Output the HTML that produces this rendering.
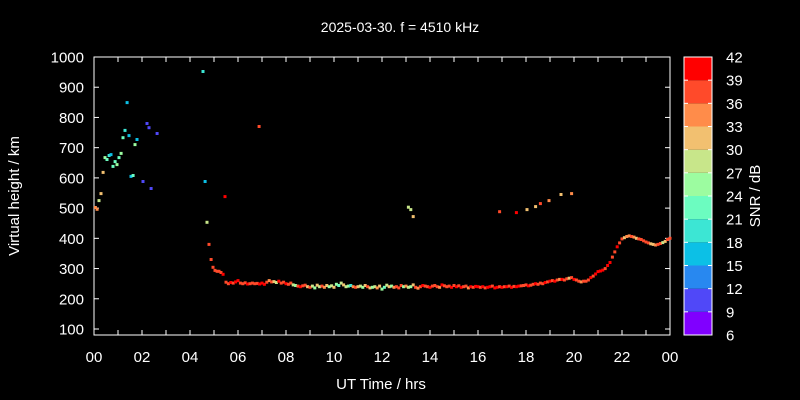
<!DOCTYPE html>
<html><head><meta charset="utf-8"><style>
html,body{margin:0;padding:0;background:#000;}
svg{display:block;font-family:"Liberation Sans",sans-serif;}
</style></head><body>
<svg id="c" width="800" height="400" viewBox="0 0 800 400">
<rect width="800" height="400" fill="#000"/>
<text x="400" y="32" fill="#fff" font-size="14" text-anchor="middle">2025-03-30. f = 4510 kHz</text>
<text x="381" y="389" fill="#fff" font-size="15" text-anchor="middle">UT Time / hrs</text>
<text x="19" y="196" fill="#fff" font-size="15" text-anchor="middle" transform="rotate(-90 19 196)">Virtual height / km</text>
<text x="760" y="196" fill="#fff" font-size="15" text-anchor="middle" transform="rotate(-90 760 196)">SNR / dB</text>
<g id="axes"></g>
<g id="pts"></g>
<g id="cbar"></g>
</svg>
<script>
const xTicks=["00","02","04","06","08","10","12","14","16","18","20","22","00"];
const yTicks=[100,200,300,400,500,600,700,800,900,1000];
const cbarTicks=[6,9,12,15,18,21,24,27,30,33,36,39,42];
const cbarColors=["#8000ff","#5048f8","#2888f0","#0cc0e6","#3ce6d4","#6cfcc0","#9cfca0","#c8e68a","#f2c070","#ff8c4a","#ff4a2a","#ff0000"];
// scattered echoes: hours, km, snr
const scatHour=[0.06,0.13,0.21,0.29,0.38,0.46,0.54,0.63,0.71,0.79,0.88,0.96,1.04,1.13,1.21,1.29,1.38,1.46,1.54,1.63,1.71,1.79,2.04,2.21,2.29,2.38,2.63,4.54,4.63,4.71,4.79,4.88,4.96,5.04,5.13,5.21,5.29,5.38,5.46,6.88,13.1,13.2,13.3,16.9,17.6,18.04,18.4,18.6,18.96,19.46,19.9];
const scatKm=[502,496,525,548,618,667,661,674,677,638,654,644,667,681,733,757,849,740,605,608,710,727,588,780,766,565,747,952,588,453,380,330,304,294,291,291,287,281,538,770,503,495,472,488,485,495,505,515,525,545,548];
const scatSnr=[33,33,27,30,30,24,21,18,15,21,21,24,21,24,21,18,15,15,15,21,24,15,9,9,9,9,9,18,15,27,36,37,37,37,37,37,36,42,42,36,27,27,30,36,42,30,30,36,33,30,33];
// main trace: starts 5.5 h, sampled every 0.1 h
const traceStart=5.5, traceStep=0.1;
const traceKm=[255,250,254,252,256,260,252,250,253,249,250,252,250,251,249,
252,248,255,260,256,257,254,258,252,255,
250,248,252,246,244,242,240,243,245,240,
238,242,236,245,240,242,238,244,240,243,
238,248,244,252,246,240,242,244,240,238,
240,242,238,244,240,236,238,240,236,242,
232,238,245,240,242,238,240,236,244,240,
242,238,240,246,238,235,240,244,242,240,
238,242,244,240,238,246,243,240,242,238,
244,240,243,238,240,242,236,240,238,241,
240,238,240,236,238,240,242,236,238,240,
238,240,240,242,238,241,240,242,243,244,
246,243,245,248,250,248,252,250,254,256,
258,260,258,262,264,264,262,266,268,270,
264,262,258,256,258,258,262,270,275,282,
290,292,295,300,310,320,338,355,372,385,
398,402,406,408,406,404,400,398,396,392,
388,385,382,380,378,380,383,386,390,396,400];
const traceSnr=[36,37,42,37,42,42,37,36,37,42,37,36,36,37,42,
42,42,37,33,36,30,27,42,36,37,
42,36,37,27,24,37,42,36,37,30,
36,27,24,30,27,36,33,30,24,27,
30,24,21,27,30,27,24,18,33,36,
30,27,24,30,36,30,24,27,33,30,
24,21,27,30,24,33,36,37,36,24,
33,27,24,30,36,33,37,42,36,37,
42,37,36,37,33,42,37,36,37,42,
37,42,36,42,37,36,33,42,37,42,
42,37,42,37,42,42,37,42,42,37,
42,37,42,37,42,37,42,42,37,36,
37,42,36,37,42,36,37,36,42,37,
42,37,42,36,33,42,37,36,30,36,
42,36,36,33,36,36,37,42,37,42,
42,42,42,37,42,42,37,36,42,37,
37,30,33,33,36,33,30,36,36,37,
37,37,30,30,33,36,37,27,30,36,36];

const NS="http://www.w3.org/2000/svg";
const L=94,R=670,T=57,B=335;
const xS=h=>L+(R-L)*h/24;
const yS=k=>329-(k-100)*(329-57)/900;
const cbT=57,cbB=335,cbL=684,cbR=712;
const cS=v=>cbB-(v-6)*(cbB-cbT)/36;
function mk(tag,at,parent){const e=document.createElementNS(NS,tag);for(const k in at)e.setAttribute(k,at[k]);parent.appendChild(e);return e;}
function col(s){let i=Math.floor((s-6)/3);if(i<0)i=0;if(i>11)i=11;return cbarColors[i];}
const ax=document.getElementById('axes');
const fr=mk('rect',{x:L,y:T,width:R-L,height:B-T,fill:'none',stroke:'#fff','stroke-width':1},ax);


for(let h=0;h<=24;h++){
 const x=xS(h);
 const t1=mk('line',{x1:x,y1:B,x2:x,y2:B-5,stroke:'#fff'},ax);
 
 
 const t2=mk('line',{x1:x,y1:T,x2:x,y2:T+5,stroke:'#fff'},ax);
 
 
}
xTicks.forEach((s,i)=>{
 const t=mk('text',{x:xS(i*2),y:362,fill:'#fff','font-size':15,'text-anchor':'middle'},ax);t.textContent=s;
 
 
});
yTicks.forEach(v=>{
 const y=yS(v);
 const a=mk('line',{x1:L,y1:y,x2:L+5,y2:y,stroke:'#fff'},ax);
 
 
 const b=mk('line',{x1:R,y1:y,x2:R-5,y2:y,stroke:'#fff'},ax);
 
 
 const t=mk('text',{x:84,y:y+5.5,fill:'#fff','font-size':15,'text-anchor':'end'},ax);t.textContent=v;
 
 
});
const pg=document.getElementById('pts');
function dot(h,k,s){
 const r=mk('rect',{x:(xS(h)-1.5).toFixed(1),y:(yS(k)-1.5).toFixed(1),width:3,height:3,fill:col(s)},pg);
 
 
}
scatHour.forEach((h,i)=>dot(h,scatKm[i],scatSnr[i]));
traceKm.forEach((k,i)=>dot(traceStart+i*traceStep,k,traceSnr[i]));
const cb=document.getElementById('cbar');
cbarColors.forEach((c,i)=>{
 const y1=cS(6+i*3+3),y2=cS(6+i*3);
 const r=mk('rect',{x:cbL,y:y1,width:cbR-cbL,height:y2-y1,fill:c},cb);
 
 
});
const cbf=mk('rect',{x:cbL,y:cbT,width:cbR-cbL,height:cbB-cbT,fill:'none',stroke:'#fff'},cb);


cbarTicks.forEach(v=>{
 const y=cS(v);
 const a=mk('line',{x1:cbL,y1:y,x2:cbL+4,y2:y,stroke:'#fff'},cb);
 
 
 const b=mk('line',{x1:cbR,y1:y,x2:cbR-4,y2:y,stroke:'#fff'},cb);
 
 
 const t=mk('text',{x:726,y:y+5.5,fill:'#fff','font-size':15},cb);t.textContent=v;
 
 
});
</script>
</body></html>
